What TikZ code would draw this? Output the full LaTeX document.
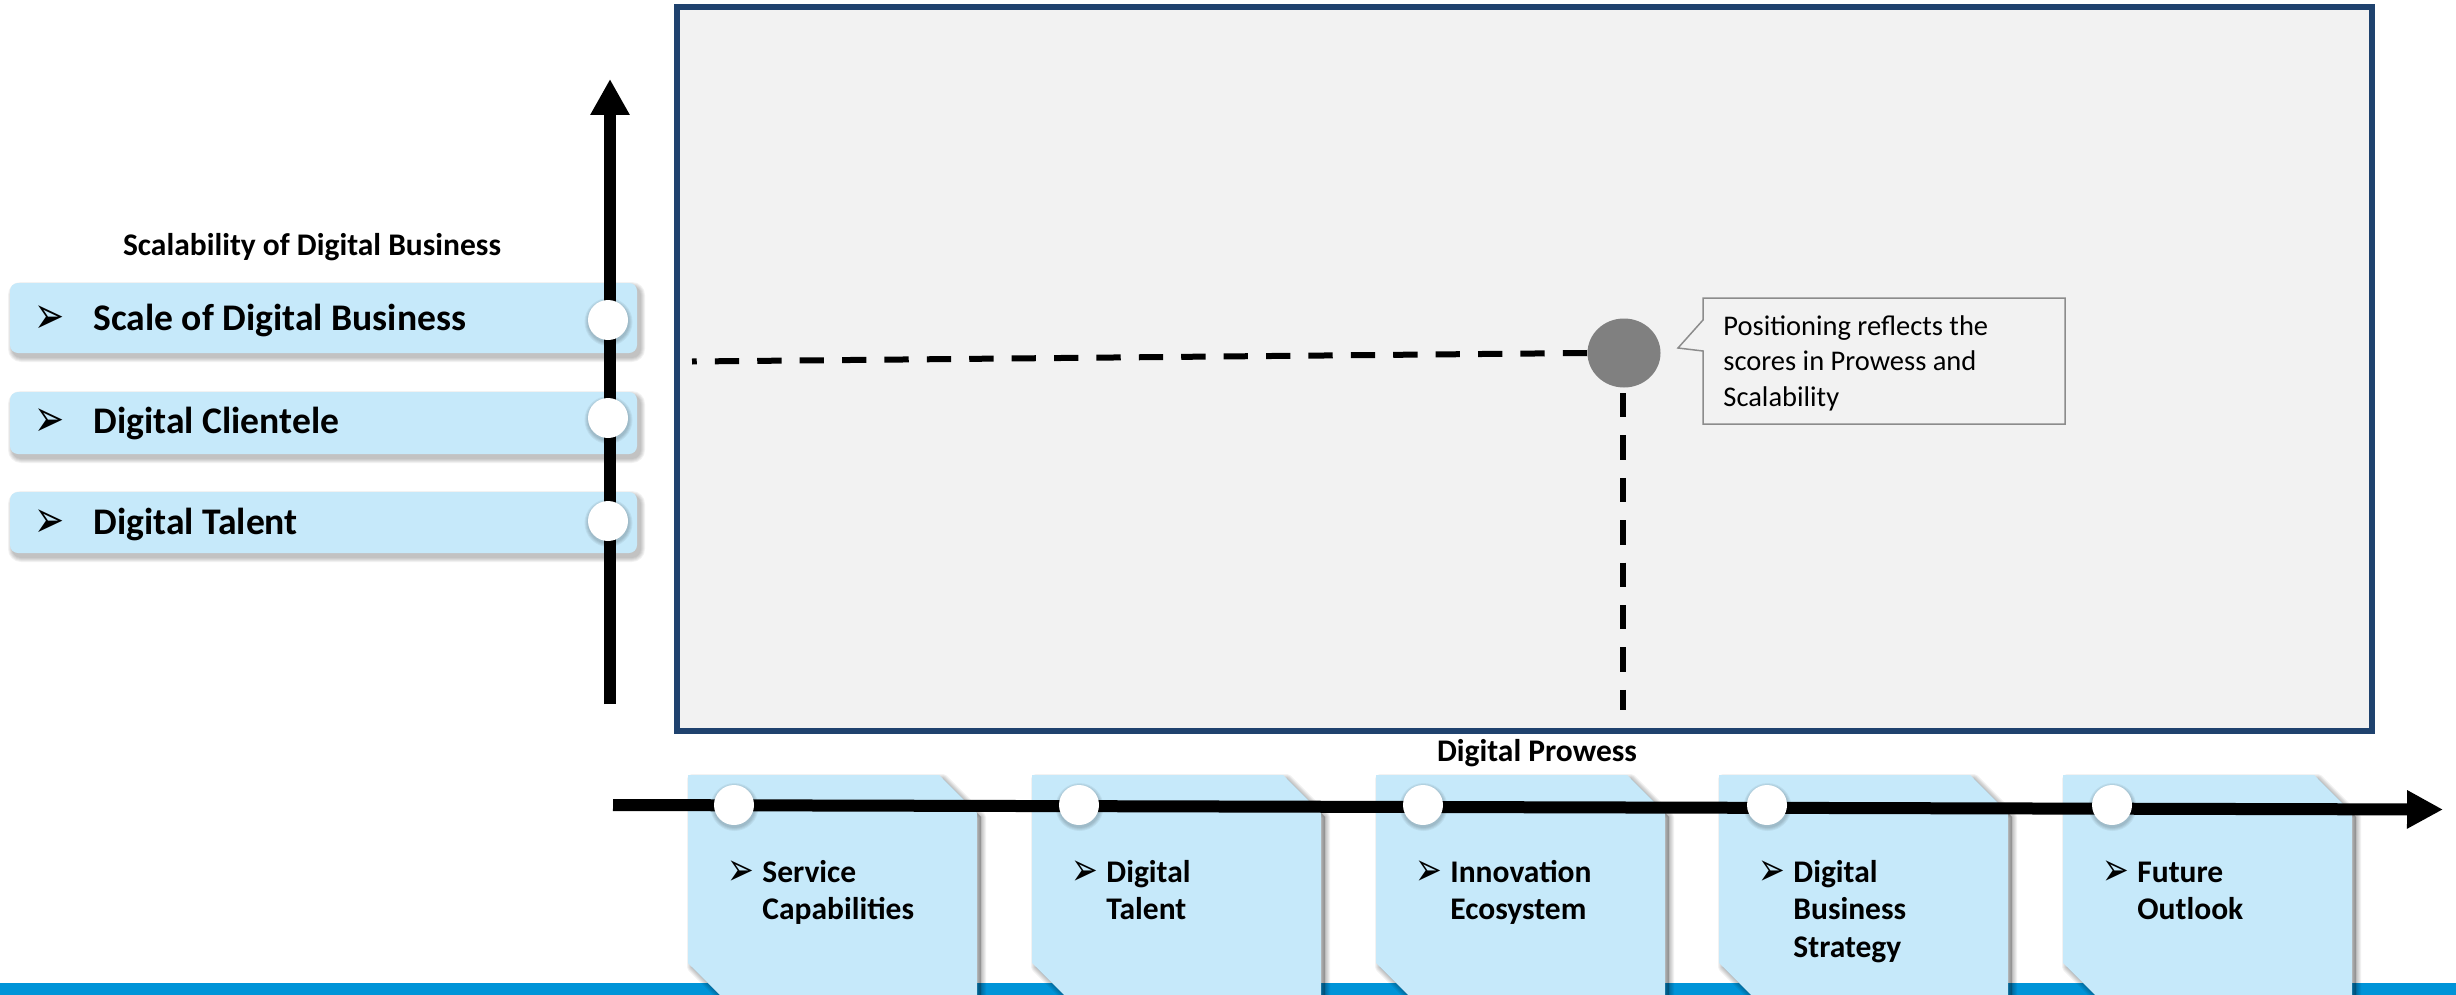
\documentclass[tikz,border=0pt]{standalone}
\usepackage{graphicx}
\usepackage{fontspec}
\setmainfont{Carlito}
\newfontfamily\bulletfont{DejaVu Sans}
\usetikzlibrary{arrows.meta,shapes.geometric}
\definecolor{lightbox}{RGB}{198,233,250}
\definecolor{frameblue}{RGB}{31,66,110}
\definecolor{panelgray}{RGB}{242,242,242}
\definecolor{bandblue}{RGB}{0,148,216}
\definecolor{dotgray}{RGB}{128,128,128}
\definecolor{calloutline}{RGB}{140,140,140}
\newcommand\fsLeft{\fontsize{18.8pt}{22pt}\selectfont\bfseries}
\newcommand\fsHead{\fontsize{15.75pt}{19pt}\selectfont\bfseries}
\newcommand\fsBottom{\fontsize{15.75pt}{18.75pt}\selectfont\bfseries}
\newcommand\fsCall{\fontsize{14.25pt}{17.75pt}\selectfont}
\newcommand\bulletBig{{\bulletfont\fontsize{18pt}{18pt}\selectfont\scalebox{1}[1.45]{➢}}}
\newcommand\bulletSmall{{\bulletfont\fontsize{16pt}{16pt}\selectfont\scalebox{1}[1.45]{➢}}}
\begin{document}
\begin{tikzpicture}[x=0.5pt,y=-0.5pt,
  leftbox/.style={fill=lightbox, rounded corners=4pt},
  pinnode/.style={circle, fill=white, inner sep=0pt, minimum size=20pt},
  axisline/.style={line width=6pt, -{Triangle[length=18pt,width=18.5pt]}},
  dashline/.style={line width=3pt, dash pattern=on 12.15pt off 9.05pt},
  lbl/.style={inner sep=0pt, anchor=base west},
  panel/.style={fill=panelgray, draw=frameblue, line width=3pt},
  calloutbox/.style={fill=panelgray, draw=calloutline, line width=0.75pt},
  softshade/.style={fill=black, draw=black, opacity=0.05, line join=round}
]
\useasboundingbox (0,0) rectangle (2456,995);
\clip (0,0) rectangle (2456,995);
\fill[white] (0,0) rectangle (2456,995);
% bottom band
\fill[bandblue] (0,983) rectangle (2456,995);
% main panel
\draw[panel] (677,7.5) rectangle (2372,730.5);
% dot, dashed guides and callout
\node[ellipse, fill=dotgray, inner sep=0pt, minimum width=36.5pt, minimum height=34.5pt] (dot) at (1624,353) {};
\coordinate (hguideend) at (692,361.5);
\coordinate (vguidestart) at (1623,393);
\coordinate (vguideend) at (1623,710);
\draw[dashline] (dot.west) -- (hguideend);
\draw[dashline] (vguidestart) -- (vguideend);
\draw[calloutbox] (1703,298) -- (2065,298) -- (2065,424) -- (1703,424) -- (1703,351) -- (1678,348) -- (1703,320) -- cycle;
% anchor base = baseline of the last line
\node[lbl, font=\fsCall, align=left] (callouttext) at (1723,406) {Positioning reflects the\\scores in Prowess and\\Scalability};
% left boxes
\foreach \t/\b in {283/353,392/454,492/553}{
  \foreach \k in {1,...,5}{
    \pgfmathsetmacro\rr{4+0.5*\k}
    \fill[black,opacity=0.05,rounded corners=\rr pt] (13-\k,\t+4-\k) rectangle (640+\k,\b+4+\k);
  }
  \fill[leftbox] (10,\t) rectangle (637,\b);
}
% vertical axis
\coordinate (yaxisbot) at (610,704);
\coordinate (yaxistop) at (610,79);
\draw[axisline] (yaxisbot) -- (yaxistop);
\foreach \y/\n in {320/1,418/2,521/3}{
  \foreach \k in {1,...,4}{
    \fill[black,opacity=0.05] (608.5,\y+2) circle[radius=(20+\k)*0.5pt];
  }
  \node[pinnode] (py\n) at (608,\y) {};
}
\node[lbl, font=\fsHead, anchor=base] (yhead) at (312,255) {Scalability of Digital Business};
\node[lbl] (ybul1) at (34,333) {\bulletBig};
\node[lbl] (ybul2) at (34,436) {\bulletBig};
\node[lbl] (ybul3) at (34,537) {\bulletBig};
\node[lbl, font=\fsLeft] (ylab1) at (93,330) {Scale of Digital Business};
\node[lbl, font=\fsLeft] (ylab2) at (93,433) {Digital Clientele};
\node[lbl, font=\fsLeft] (ylab3) at (93,534) {Digital Talent};
% bottom boxes
\foreach \L in {688,1032,1376,1719,2063}{
  \foreach \k in {1,...,5}{
    \path[softshade, line width=\k pt]
      (\L+4,779) -- (\L+255,779) -- (\L+293,817) -- (\L+293,1005) -- (\L+42,1005) -- (\L+4,967) -- cycle;
  }
  \fill[lightbox] (\L,775) -- (\L+251,775) -- (\L+289,813) -- (\L+289,1001) -- (\L+38,1001) -- (\L,963) -- cycle;
}
% horizontal axis
\coordinate (xaxisstart) at (613,805);
\coordinate (xaxisend) at (2443,809.5);
\draw[axisline, -{Triangle[length=18pt,width=18pt]}] (xaxisstart) -- (xaxisend);
\foreach \x/\n in {734/1,1079/2,1423/3,1767/4,2112/5}{
  \foreach \k in {1,...,4}{
    \fill[black,opacity=0.05] (\x+0.5,807) circle[radius=(20+\k)*0.5pt];
  }
  \node[pinnode] (px\n) at (\x,805) {};
}
\node[lbl, font=\fsHead, anchor=base] (xhead) at (1537,761) {Digital Prowess};
\foreach \L/\n/\lastbase/\txt in {688/1/919.5/{Service\\Capabilities},1032/2/919.5/{Digital\\Talent},1376/3/919.5/{Innovation\\Ecosystem},1719/4/957/{Digital\\Business\\Strategy},2063/5/919.5/{Future\\Outlook}}{
  \node[lbl] (xbul\n) at (\L+39,885) {\bulletSmall};
  \node[lbl, font=\fsBottom, align=left] (xlab\n) at (\L+74,\lastbase) {\txt};
}
\end{tikzpicture}
\end{document}
